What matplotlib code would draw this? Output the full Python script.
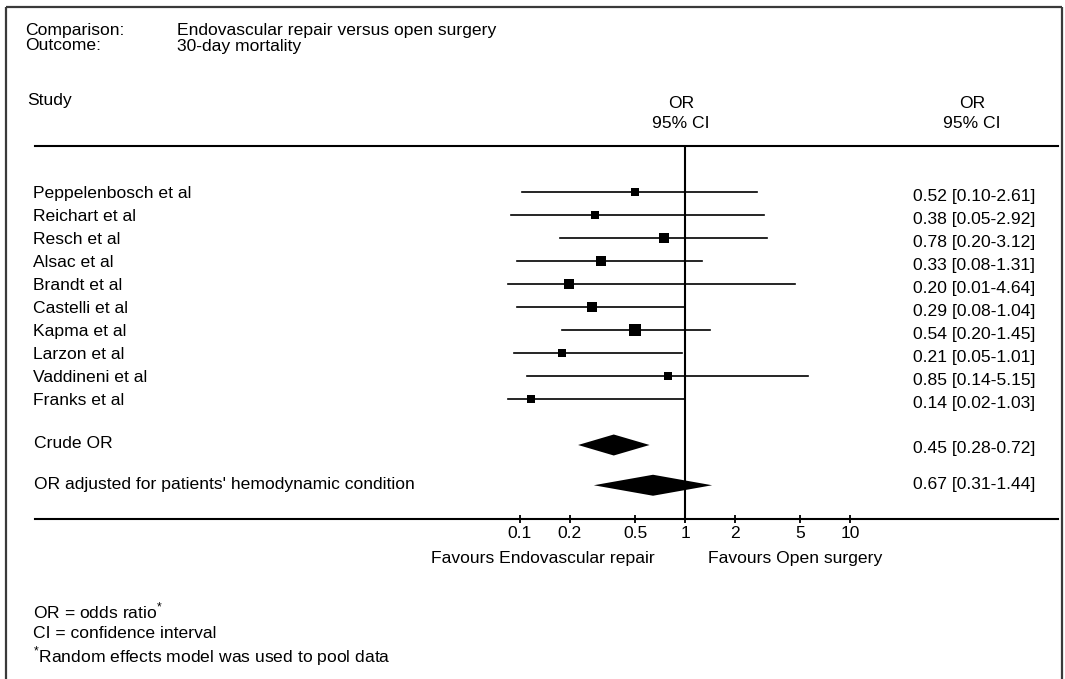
import matplotlib
matplotlib.use("Agg")
import matplotlib.pyplot as plt
import matplotlib.transforms as mtransforms

plt.rcParams["font.family"] = ["Liberation Sans", "DejaVu Sans"]
plt.rcParams["mathtext.fontset"] = "custom"
plt.rcParams["mathtext.rm"] = "Liberation Sans"

# ---- data -------------------------------------------------------------
studies = ["Peppelenbosch et al", "Reichart et al", "Resch et al", "Alsac et al",
           "Brandt et al", "Castelli et al", "Kapma et al", "Larzon et al",
           "Vaddineni et al", "Franks et al"]
# plotted positions
or_est = [0.50, 0.284, 0.746, 0.308, 0.199, 0.274, 0.50, 0.18, 0.79, 0.116]
ci_low = [0.103, 0.088, 0.175, 0.096, 0.084, 0.096, 0.179, 0.092, 0.111, 0.084]
ci_high = [2.74, 3.01, 3.16, 1.26, 4.66, 1.0, 1.42, 0.96, 5.59, 1.0]
weights = [7.7, 7.7, 11.2, 11.2, 11.2, 11.2, 15.3, 8.5, 7.7, 8.5]
# text column
or_text = ["0.52 [0.10-2.61]", "0.38 [0.05-2.92]", "0.78 [0.20-3.12]",
           "0.33 [0.08-1.31]", "0.20 [0.01-4.64]", "0.29 [0.08-1.04]",
           "0.54 [0.20-1.45]", "0.21 [0.05-1.01]", "0.85 [0.14-5.15]",
           "0.14 [0.02-1.03]"]

pooled_labels = ["Crude OR", "OR adjusted for patients' hemodynamic condition"]
pooled_est = [0.37, 0.64]
pooled_low = [0.225, 0.28]
pooled_high = [0.61, 1.46]
pooled_text = ["0.45 [0.28-0.72]", "0.67 [0.31-1.44]"]
pooled_rows = [11, 12.75]

xticks = [0.1, 0.2, 0.5, 1, 2, 5, 10]
xticklabels = ["0.1", "0.2", "0.5", "1", "2", "5", "10"]

# ---- layout (pixel geometry of the page) ------------------------------
W, H = 1065, 679
FS = 12.6
row0, row_h = 192, 23          # pixel y of first row, row spacing
x_one, decade = 685, 165       # pixel x of OR=1, pixels per decade
ax_left, ax_right, ax_top, ax_bottom = 35, 1058, 146, 519

fig = plt.figure(figsize=(W / 100, H / 100), dpi=100)
bg = fig.add_axes([0, 0, 1, 1])
bg.set_xlim(0, W)
bg.set_ylim(H, 0)
bg.axis("off")

# frame (open at the bottom)
frame_kw = dict(color="#3a3a3a", lw=1.6, solid_capstyle="butt")
bg.plot([6, 6], [7, H], **frame_kw)
bg.plot([6, 1062], [7, 7], **frame_kw)
bg.plot([1062, 1062], [7, H], **frame_kw)
bg.plot([ax_left, ax_right], [ax_top, ax_top], color="black", lw=1.5)

bg.text(25, 30, "Comparison:", fontsize=FS, va="center")
bg.text(177, 30, "Endovascular repair versus open surgery", fontsize=FS, va="center")
bg.text(25, 46, "Outcome:", fontsize=FS, va="center")
bg.text(177, 46, "30-day mortality", fontsize=FS, va="center")
bg.text(27, 101, "Study", fontsize=FS, va="center")
for cx in (681, 972):
    bg.text(cx, 103, "OR", fontsize=FS, ha="center", va="center")
    bg.text(cx, 123, "95% CI", fontsize=FS, ha="center", va="center")

bg.text(655, 558, "Favours Endovascular repair", fontsize=FS, ha="right", va="center")
bg.text(708, 558, "Favours Open surgery", fontsize=FS, ha="left", va="center")

bg.text(33, 611, r"OR = odds ratio$^{\mathrm{*}}$", fontsize=FS, va="center")
bg.text(33, 633, "CI = confidence interval", fontsize=FS, va="center")
bg.text(33, 656, r"$^{\mathrm{*}}$Random effects model was used to pool data",
        fontsize=FS, va="center")

# ---- forest axes ------------------------------------------------------
ax = fig.add_axes([ax_left / W, (H - ax_bottom) / H,
                   (ax_right - ax_left) / W, (ax_bottom - ax_top) / H])
ax.patch.set_alpha(0)
ax.set_xscale("log")
ax.set_xlim(10 ** ((ax_left - x_one) / decade), 10 ** ((ax_right - x_one) / decade))
ax.set_ylim((ax_bottom - row0) / row_h, (ax_top - row0) / row_h)
for s in ("top", "left", "right"):
    ax.spines[s].set_visible(False)
ax.spines["bottom"].set_linewidth(1.5)
ax.set_yticks([])
ax.set_xticks(xticks)
ax.set_xticklabels(xticklabels, fontsize=FS)
ax.minorticks_off()
ax.tick_params(axis="x", direction="inout", length=6, width=1.3, pad=2)

ax.axvline(1, color="black", lw=1.5)

label_tf = mtransforms.blended_transform_factory(bg.transData, ax.transData)
for i, name in enumerate(studies):
    ax.plot([ci_low[i], ci_high[i]], [i, i], color="black", lw=1.2)
    side_px = 2.99 * weights[i] ** 0.5
    ax.plot(or_est[i], i, marker="s", color="black", markersize=side_px * 0.72,
            markeredgewidth=0)
    ax.text(33, i + 0.08, name, fontsize=FS, va="center", transform=label_tf)
    ax.text(913, i + 0.2, or_text[i], fontsize=FS, va="center", transform=label_tf)

half_h = 10.5 / row_h
for j, name in enumerate(pooled_labels):
    y = pooled_rows[j]
    ax.fill([pooled_low[j], pooled_est[j], pooled_high[j], pooled_est[j]],
            [y, y - half_h, y, y + half_h], color="black", lw=0)
    ax.text(34, y - 0.05, name, fontsize=FS, va="center", transform=label_tf)
    ax.text(913, y + 0.15 - 0.2 * j, pooled_text[j], fontsize=FS, va="center",
            transform=label_tf)

fig.savefig("out.png", dpi=100)
